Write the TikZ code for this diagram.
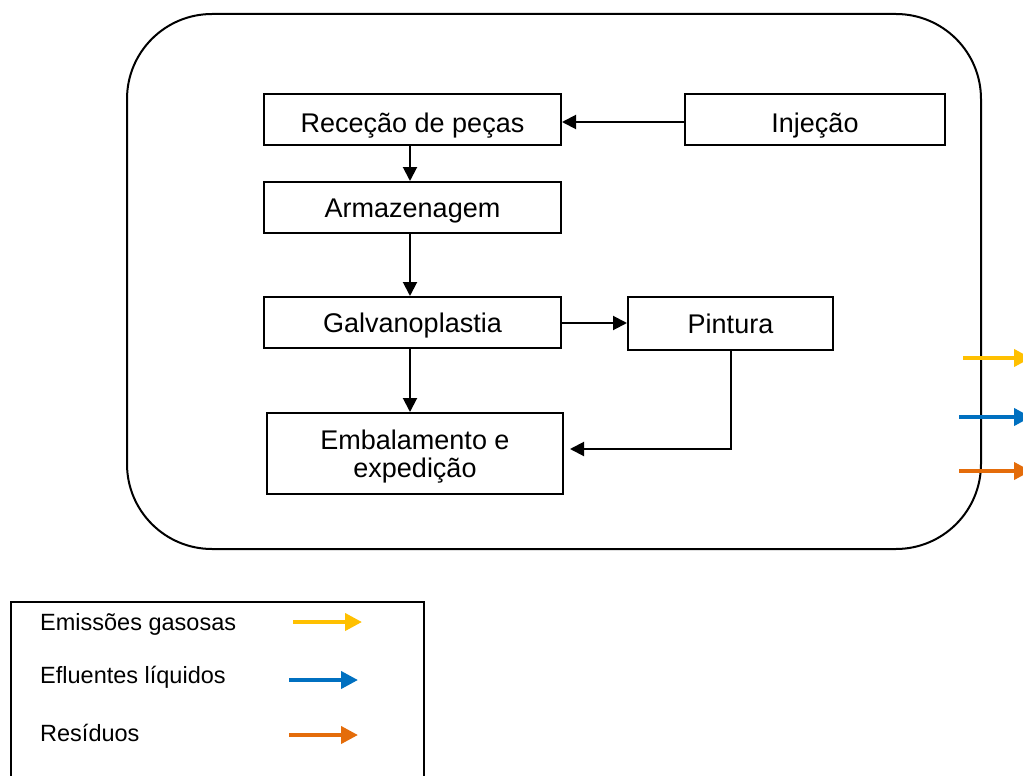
\documentclass[tikz,border=0pt]{standalone}
\usepackage{fontspec}
\setmainfont{Liberation Sans}
\usetikzlibrary{arrows.meta}
\definecolor{cyellow}{HTML}{FFC000}
\definecolor{cblue}{HTML}{0070C0}
\definecolor{corange}{HTML}{E46C0A}
\begin{document}
\begin{tikzpicture}[x=1pt,y=-1pt,
  procbox/.style={draw=black,line width=2pt,inner sep=0pt,align=center,
    text height=20pt,text depth=0pt,
    font=\fontsize{27}{28}\selectfont},
  plaintext/.style={inner sep=0pt,align=center,font=\fontsize{27}{28}\selectfont},
  flow/.style={line width=2pt,-{Triangle[length=14pt,width=14pt]}},
  emis/.style={line width=4pt,-{Triangle[length=17pt,width=17pt]}},
  legtext/.style={anchor=west,inner sep=0pt,font=\fontsize{23.5}{28}\selectfont}]
\useasboundingbox (0,0) rectangle (1023,776);
% outer frame
\draw[line width=2pt,rounded corners=85pt] (127,14) rectangle (981,549);
% process boxes
\node[procbox,text height=26pt,minimum width=297pt,minimum height=51pt] (rec) at (412.5,119.5) {Receção de peças};
\node[procbox,text height=26pt,minimum width=260pt,minimum height=51pt] (inj) at (815,119.5) {Injeção};
\node[procbox,minimum width=297pt,minimum height=51pt] (arm) at (412.5,207.5) {Armazenagem};
\node[procbox,minimum width=297pt,minimum height=51pt] (gal) at (412.5,322.5) {Galvanoplastia};
\node[procbox,minimum width=205pt,minimum height=53pt] (pin) at (730.5,323.5) {Pintura};
\node[procbox,minimum width=296pt,minimum height=81pt] (emb) at (415,453.5) {};
\node[plaintext] (embtext) at (415,457) {Embalamento e\\expedição};
% connectors
\draw[flow] (inj.west |- 0,122) -- (rec.east |- 0,122);
\draw[flow] (rec.south -| 410,0) -- (arm.north -| 410,0);
\draw[flow] (arm.south -| 410,0) -- (gal.north -| 410,0);
\draw[flow] (gal.east |- 0,323) -- (pin.west |- 0,323);
\draw[flow] (gal.south -| 410,0) -- (emb.north -| 410,0);
\coordinate (pc) at (731,449);
\draw[flow] (pin.south -| pc) -- (pc) -- ([xshift=6pt]emb.east |- pc);
% outgoing emissions
\coordinate (ys) at (963,358); \coordinate (ye) at (1031,358);
\coordinate (bs) at (959,417); \coordinate (be) at (1031,417);
\coordinate (os) at (959,471); \coordinate (oe) at (1031,471);
\draw[emis,cyellow] (ys) -- (ye);
\draw[emis,cblue] (bs) -- (be);
\draw[emis,corange] (os) -- (oe);
% legend
\draw[line width=1.3pt] (11,850) -- (11,602) -- (424,602) -- (424,850);
\node[legtext] (l1) at (40,624) {Emissões gasosas};
\node[legtext] (l2) at (40,677) {Efluentes líquidos};
\node[legtext] (l3) at (40,733) {Resíduos};
\coordinate (a1s) at (293,622); \coordinate (a1e) at (362,622);
\coordinate (a2s) at (289,680); \coordinate (a2e) at (358,680);
\coordinate (a3s) at (289,735); \coordinate (a3e) at (358,735);
\draw[emis,cyellow] (a1s) -- (a1e);
\draw[emis,cblue] (a2s) -- (a2e);
\draw[emis,corange] (a3s) -- (a3e);
\end{tikzpicture}
\end{document}
